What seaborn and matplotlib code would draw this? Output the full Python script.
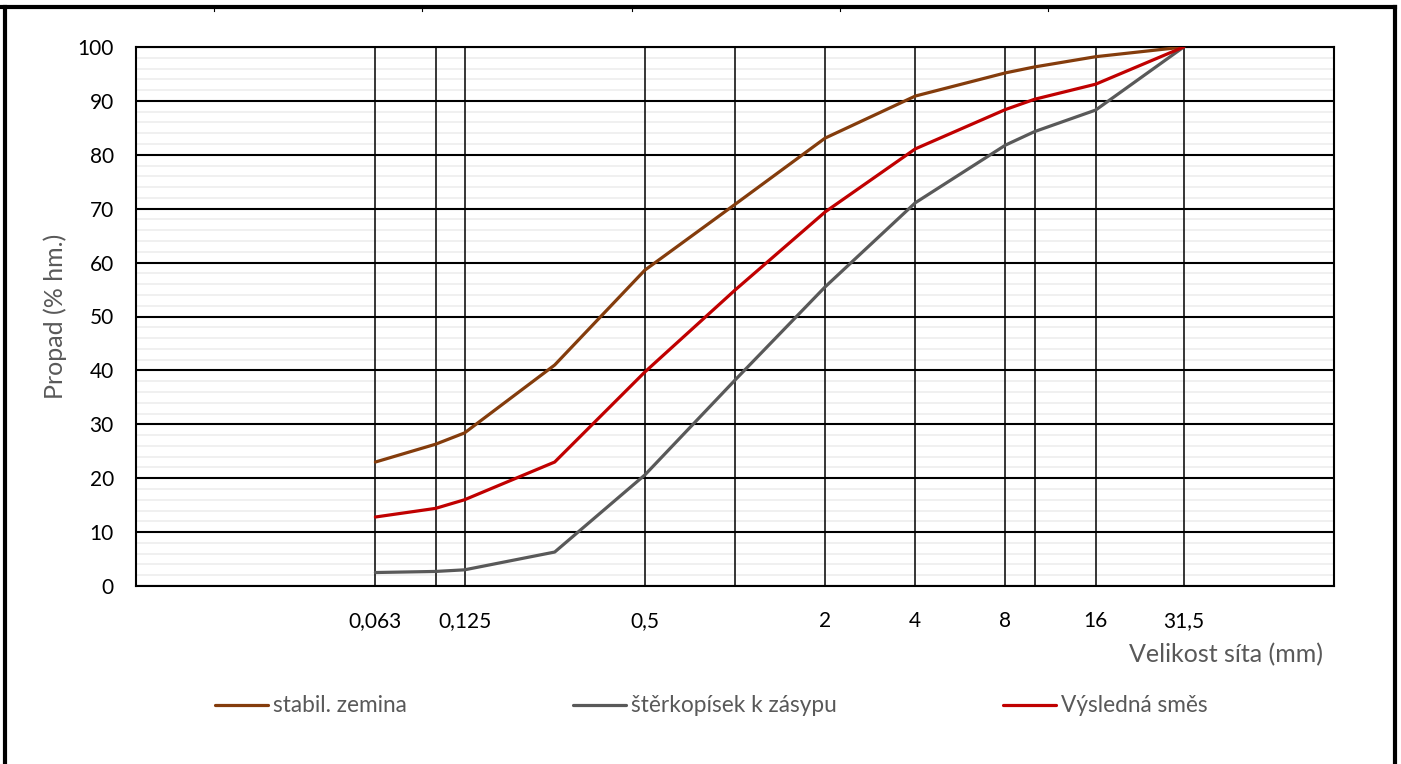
import matplotlib
matplotlib.use('Agg')
import matplotlib.pyplot as plt
from matplotlib.lines import Line2D
from matplotlib.ticker import MultipleLocator, NullLocator, FixedLocator, FixedFormatter
import seaborn as sns
import pandas as pd

# --- Data ---
sieve_mm = [0.063, 0.1, 0.125, 0.25, 0.5, 1, 2, 4, 8, 10, 16, 31.5]
stabil_zemina = [23.0, 26.3, 28.4, 41.0, 58.6, 70.8, 83.1, 90.9, 95.2, 96.3, 98.2, 100]
sterkopisek = [2.5, 2.7, 3.0, 6.3, 20.6, 38.2, 55.5, 71.1, 81.8, 84.3, 88.3, 100]
vysledna_smes = [12.8, 14.4, 16.0, 23.0, 39.7, 54.9, 69.4, 81.1, 88.4, 90.3, 93.1, 100]

series_names = ['stabil. zemina', 'štěrkopísek k zásypu', 'Výsledná směs']
series_colors = ['#843C0C', '#595959', '#C00000']

grid_ticks = [0.063, 0.1, 0.125, 0.5, 1, 2, 4, 8, 10, 16, 31.5]
grid_labels = ['0,063', '', '0,125', '0,5', '', '2', '4', '8', '', '16', '31,5']

df = pd.DataFrame({
    'sito': sieve_mm * 3,
    'propad': stabil_zemina + sterkopisek + vysledna_smes,
    'serie': [series_names[0]] * len(sieve_mm) + [series_names[1]] * len(sieve_mm) + [series_names[2]] * len(sieve_mm),
})

# --- Styling ---
sns.set_style('white')
plt.rcParams['font.family'] = ['Lato', 'DejaVu Sans']
tick_fs = 15
title_fs = 18
legend_fs = 16.3
label_color = '#595959'

fig = plt.figure(figsize=(14.01, 7.64), dpi=100)
ax = fig.add_axes([136 / 1401, 1 - 586 / 764, 1198 / 1401, 539 / 764])

sns.lineplot(data=df, x='sito', y='propad', hue='serie', hue_order=series_names,
             palette=series_colors, linewidth=2.3, sort=False, legend=False, ax=ax, zorder=5)

ax.set_xscale('log')
ax.set_xlim(0.01, 100)
ax.set_ylim(0, 100)

ax.xaxis.set_major_locator(FixedLocator(grid_ticks))
ax.xaxis.set_major_formatter(FixedFormatter(grid_labels))
ax.xaxis.set_minor_locator(NullLocator())
ax.yaxis.set_major_locator(MultipleLocator(10))
ax.yaxis.set_minor_locator(MultipleLocator(2))

ax.set_axisbelow(True)
ax.yaxis.grid(True, which='minor', color='#EFEFEF', linewidth=1.3, linestyle='-')
ax.yaxis.grid(True, which='major', color='black', linewidth=1.5, linestyle='-')
ax.xaxis.grid(True, which='major', color='black', linewidth=1.1, linestyle='-')
# vertical sieve lines sit on top of the light horizontal minor grid
ax.xaxis.set_zorder(0.7)

ax.tick_params(axis='both', which='both', length=0, labelsize=tick_fs, labelcolor='black')
ax.tick_params(axis='y', pad=16)
ax.tick_params(axis='x', pad=18)

for sp in ax.spines.values():
    sp.set_color('black')
    sp.set_linewidth(1.5)

ax.set_xlabel('Velikost síta (mm)', fontsize=title_fs, color=label_color, ha='right', va='center')
ax.xaxis.set_label_coords((1323 - 136) / 1198, (586 - 655) / 539)
ax.set_ylabel('Propad (% hm.)', fontsize=title_fs, color=label_color, va='center')
ax.yaxis.set_label_coords((55 - 136) / 1198, (586 - 316) / 539)

# --- Legend ---
handles = [Line2D([], [], color=c, linewidth=2.3) for c in series_colors]
fig.legend(handles, series_names, loc='center left', bbox_to_anchor=(215 / 1401, 1 - 706 / 764),
           ncol=3, frameon=False, fontsize=legend_fs, labelcolor=label_color,
           handlelength=2.34, handletextpad=0.2, columnspacing=7.37, borderpad=0, borderaxespad=0)

# --- Surrounding frame (table border) ---
W, H = 1401, 764
def fline(x0, y0, x1, y1, lw):
    fig.add_artist(Line2D([x0 / W, x1 / W], [1 - y0 / H, 1 - y1 / H], color='black',
                          linewidth=lw, transform=fig.transFigure, solid_capstyle='projecting'))

fline(0, 7, 1395, 7, 3)
fline(5, 7, 5, 764, 3)
fline(1395, 7, 1395, 764, 3)
for tx in [214, 422, 632, 840, 1048]:
    fline(tx, 7, tx, 11, 0.8)

fig.savefig('out.png', dpi=100)
